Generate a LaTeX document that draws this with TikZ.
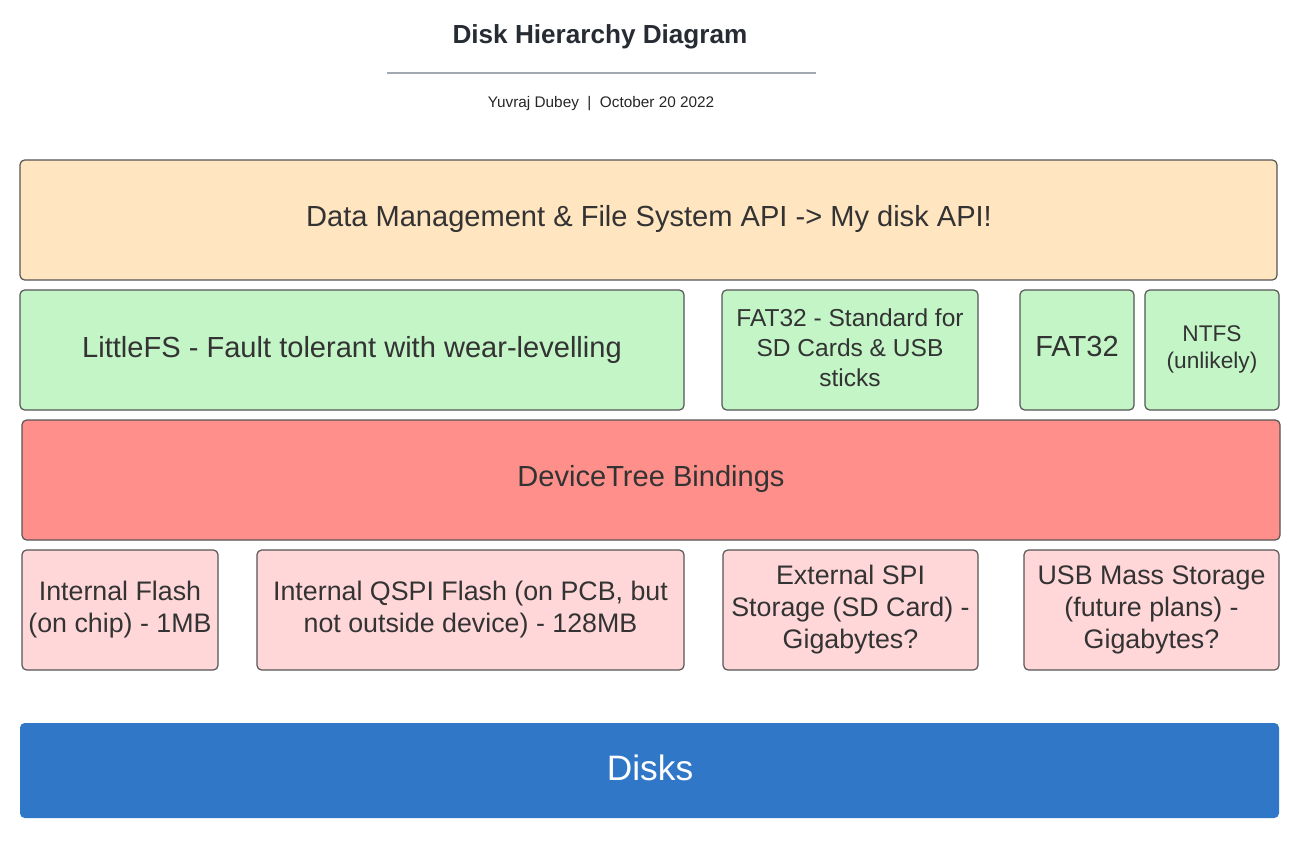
\documentclass[tikz,border=0pt]{standalone}
\usepackage{fontspec}
\setmainfont{Liberation Sans}
\definecolor{txt}{HTML}{333333}
\definecolor{edge}{HTML}{555555}
\definecolor{cApi}{HTML}{FFE5C0}
\definecolor{cFs}{HTML}{C3F5C7}
\definecolor{cDt}{HTML}{FF8F8A}
\definecolor{cHw}{HTML}{FFD7D9}
\definecolor{cDisk}{HTML}{3077C8}
\definecolor{cRule}{HTML}{A3A9B3}
\definecolor{cTitle}{HTML}{272B33}
\begin{document}
\begin{tikzpicture}[x=0.75pt,y=-0.75pt,
  box/.style={draw=edge, line width=0.9pt, rounded corners=3.5pt, inner sep=0pt, minimum height=120*0.75pt},
  lbl/.style={text=txt, align=center, inner sep=0pt},
  big/.style={font=\fontsize{21.8}{26}\selectfont},
  mid/.style={font=\fontsize{20.1}{24}\selectfont},
  sml/.style={font=\fontsize{18.4}{22.5}\selectfont},
  tiny/.style={font=\fontsize{17}{20.3}\selectfont}]
\useasboundingbox (0,0) rectangle (1311,849);
\node[font=\bfseries\fontsize{19.6}{23}\selectfont, text=cTitle] (title) at (600,37) {Disk Hierarchy Diagram};
\coordinate (ruleL) at (387,73);
\coordinate (ruleR) at (816,73);
\draw[cRule, line width=1.5pt] (ruleL) -- (ruleR);
\node[font=\fontsize{11.5}{14}\selectfont, text=black!85] (author) at (601,104) {Yuvraj Dubey~~|~~October 20 2022};
% API
\node[box, fill=cApi, minimum width=1257*0.75pt] (api) at (648.5,220) {};
\node[lbl, big] (apiT) at (649,219) {Data Management \& File System API -> My disk API!};
% File systems
\node[box, fill=cFs, minimum width=664*0.75pt] (lfs) at (352,350) {};
\node[lbl, big] (lfsT) at (352,350) {LittleFS - Fault tolerant with wear-levelling};
\node[box, fill=cFs, minimum width=256*0.75pt] (fat1) at (850,350) {};
\node[lbl, sml] (fat1T) at (850,348) {FAT32 - Standard for\\SD Cards \& USB\\sticks};
\node[box, fill=cFs, minimum width=114*0.75pt] (fat2) at (1077,350) {};
\node[lbl, big] (fat2T) at (1077,346) {FAT32};
\node[box, fill=cFs, minimum width=134*0.75pt] (ntfs) at (1212,350) {};
\node[lbl, tiny] (ntfsT) at (1212,349) {NTFS\\(unlikely)};
% DeviceTree
\node[box, fill=cDt, minimum width=1258*0.75pt] (dt) at (651,480) {};
\node[lbl, big] (dtT) at (651,479) {DeviceTree Bindings};
% Hardware
\node[box, fill=cHw, minimum width=196*0.75pt] (iflash) at (120,610) {};
\node[lbl, mid] (iflashT) at (120,610) {Internal Flash\\(on chip) - 1MB};
\node[box, fill=cHw, minimum width=427*0.75pt] (qspi) at (470.5,610) {};
\node[lbl, mid] (qspiT) at (470.5,610) {Internal QSPI Flash (on PCB, but\\not outside device) - 128MB};
\node[box, fill=cHw, minimum width=255*0.75pt] (spi) at (850.5,610) {};
\node[lbl, mid] (spiT) at (850.5,610) {External SPI\\Storage (SD Card) -\\Gigabytes?};
\node[box, fill=cHw, minimum width=255*0.75pt] (usb) at (1151.5,610) {};
\node[lbl, mid] (usbT) at (1151.5,610) {USB Mass Storage\\(future plans) -\\Gigabytes?};
% Disks
\node[fill=cDisk, rounded corners=3.5pt, minimum width=1259*0.75pt, minimum height=95*0.75pt, inner sep=0pt] (disks) at (649.5,770.5) {};
\node[text=white, font=\fontsize{26.5}{31}\selectfont, inner sep=0pt] (disksT) at (650,767.5) {Disks};
\end{tikzpicture}
\end{document}
